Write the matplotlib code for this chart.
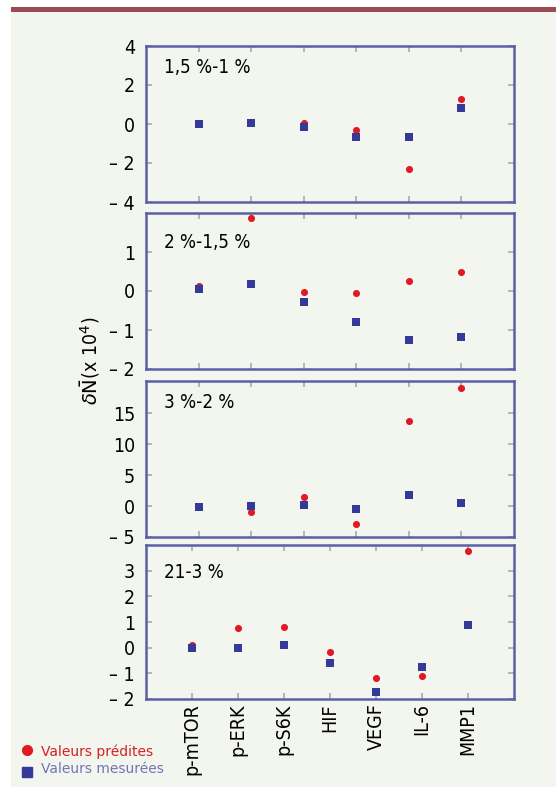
import matplotlib
matplotlib.use("Agg")
import matplotlib.pyplot as plt
from matplotlib.patches import Rectangle

# categories
genes6 = ["p-mTOR", "p-ERK", "p-S6K", "HIF", "VEGF", "IL-6"]
genes7 = ["p-mTOR", "p-ERK", "p-S6K", "HIF", "VEGF", "IL-6", "MMP1"]

# panel titles
titles = ["1,5 %-1 %", "2 %-1,5 %", "3 %-2 %", "21-3 %"]

# predicted (red) and measured (blue) values, x 10^4
pred_1 = [0.07, 0.1, 0.07, -0.32, -2.32, 1.3]
meas_1 = [0.0, 0.05, -0.17, -0.68, -0.68, 0.8]
pred_2 = [0.14, 1.86, -0.03, -0.06, 0.26, 0.49]
meas_2 = [0.04, 0.18, -0.29, -0.8, -1.26, -1.17]
pred_3 = [-0.2, -0.92, 1.45, -2.85, 13.7, 19.0]
meas_3 = [-0.2, 0.05, 0.2, -0.55, 1.8, 0.55]
pred_4 = [0.12, 0.76, 0.82, -0.17, -1.19, -1.1, 3.75]
meas_4 = [-0.02, 0.0, 0.1, -0.61, -1.71, -0.75, 0.89]

# y ticks per panel
yticks_1 = [-4, -2, 0, 2, 4]
yticks_2 = [-2, -1, 0, 1]
yticks_3 = [-5, 0, 5, 10, 15]
yticks_4 = [-2, -1, 0, 1, 2, 3]
ylims = [(-4, 4), (-2, 2), (-5, 20.2), (-2, 4)]

RED = "#e01a22"
BLUE = "#343a98"
FRAME = "#5b5fa5"
TICK = "#a3a7c6"
BG = "#f3f6ee"
COND = dict(family="DejaVu Sans", stretch="condensed")

fig = plt.figure(figsize=(5.56, 7.87), dpi=100, facecolor="white")
# background panel and top bar
fig.patches.append(Rectangle((11 / 556, 0), 1, 1 - 12 / 787, transform=fig.transFigure,
                             facecolor=BG, edgecolor="none", zorder=-10))
fig.patches.append(Rectangle((11 / 556, 1 - 12 / 787), 1, 5 / 787, transform=fig.transFigure,
                             facecolor="#9b4a55", edgecolor="none", zorder=-9))

left, width = 146 / 556, 368 / 556
boxes = [(46, 202), (213, 369), (381, 537), (545, 699)]
preds = [pred_1, pred_2, pred_3, pred_4]
meas = [meas_1, meas_2, meas_3, meas_4]
yticks = [yticks_1, yticks_2, yticks_3, yticks_4]
title_y = [0.86, 0.81, 0.86, 0.82]


def tick_label(v):
    return "\u2013 %d" % abs(v) if v < 0 else "%d" % v


for i, (top, bot) in enumerate(boxes):
    ax = fig.add_axes([left, 1 - bot / 787, width, (bot - top) / 787])
    ax.set_facecolor(BG)
    n = len(preds[i])
    xs = list(range(n))
    ax.scatter(xs, preds[i], s=26, color=RED, marker="o", zorder=3, linewidths=0)
    ax.scatter(xs, meas[i], s=32, color=BLUE, marker="s", zorder=4, linewidths=0)
    ax.set_xlim(-1, n)
    ax.set_ylim(*ylims[i])
    ax.set_xticks(xs)
    ax.set_yticks(yticks[i])
    ax.set_yticklabels([tick_label(v) for v in yticks[i]], fontsize=14, **COND)
    if n == 7:
        ax.set_xticklabels(genes7, rotation=90, fontsize=14, **COND)
    else:
        ax.set_xticklabels([])
    ax.tick_params(direction="in", length=4, width=1.2, color=TICK,
                   top=True, right=True, pad=8)
    ax.tick_params(axis="x", pad=3)
    for sp in ax.spines.values():
        sp.set_color(FRAME)
        sp.set_linewidth(1.8)
    ax.text(0.05, title_y[i], titles[i], transform=ax.transAxes,
            fontsize=13.5, va="center", ha="left", **COND)

fig.text(90 / 556, 1 - 361 / 787, r"$\delta\bar{\mathrm{N}}$(x 10$^4$)", rotation=90,
         ha="center", va="center", fontsize=14, **COND)

# legend
fig.text(41 / 556, 1 - 752 / 787, "Valeurs prédites", color="#d42024", fontsize=10,
         va="center")
fig.text(41 / 556, 1 - 769 / 787, "Valeurs mesurées", color="#7276b6", fontsize=10,
         va="center")
fig.lines.append(plt.Line2D([27 / 556], [1 - 750 / 787], marker="o", color=RED,
                            markersize=7, transform=fig.transFigure))
fig.lines.append(plt.Line2D([27 / 556], [1 - 772 / 787], marker="s", color=BLUE,
                            markersize=6.5, transform=fig.transFigure))

fig.savefig("out.png", dpi=100, facecolor=fig.get_facecolor())
